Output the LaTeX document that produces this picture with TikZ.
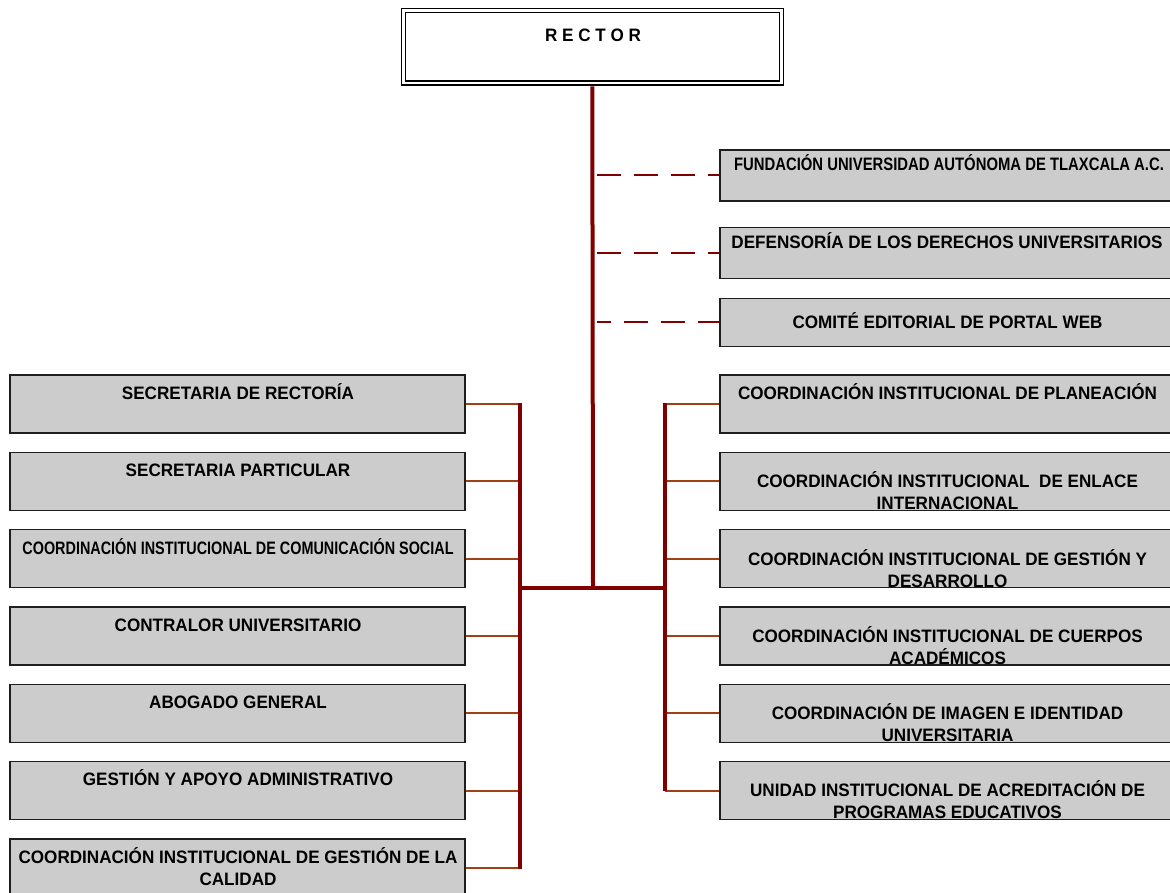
\documentclass[tikz,border=0pt]{standalone}
\usepackage{fontspec}
\setmainfont{Liberation Sans}
\usepackage{graphicx}
\definecolor{trunkc}{RGB}{128,0,0}
\definecolor{branchc}{RGB}{160,64,20}
\definecolor{boxgray}{RGB}{204,204,204}
\definecolor{edgec}{RGB}{30,30,30}
\newcommand\nx[1]{\scalebox{0.95}[1]{#1}}
\newcommand\cxa[1]{\scalebox{0.80}[1]{#1}}
\newcommand\cxb[1]{\scalebox{0.825}[1]{#1}}
\begin{document}
\begin{tikzpicture}[x=1pt,y=-1pt,
  unitbox/.style={rectangle, draw=edgec, line width=1.3pt, fill=boxgray,
    minimum width=455pt, minimum height=58pt, inner sep=0pt},
  lbl/.style={anchor=base, inner sep=0pt, font=\bfseries\fontsize{18}{21.6}\selectfont},
  trunkline/.style={trunkc, line width=4pt},
  branchline/.style={branchc, line width=1.8pt},
  dashline/.style={trunkc, line width=1.7pt, dash pattern=on 24pt off 13pt}
]
\useasboundingbox (0,0) rectangle (1170,892);
\clip (0,0) rectangle (1170,892);

% Rector
\node[rectangle, draw=black, double=white, double distance=2.6pt, line width=1.3pt,
  minimum width=378pt, minimum height=72.6pt, inner sep=0pt] (rector) at (592.3,46.7) {};
\node[lbl] (rectort) at (593,41) {\nx{R E C T O R}};

% Junction coordinates
\coordinate (J) at (593,588);
\coordinate (LJ) at (520,588);
\coordinate (RJ) at (665,588);
\coordinate (LT) at (520,403.3);
\coordinate (LB) at (520,869);
\coordinate (RT) at (665,403.3);
\coordinate (RB) at (665,791);

% Right top boxes (staff)
\node[unitbox, minimum height=51pt] (fa) at (947.5,175.5) {};
\node[unitbox, minimum height=51pt] (fb) at (947.5,252.8) {};
\node[unitbox, minimum height=48pt] (fc) at (947.5,322.2) {};
\node[lbl] (fat) at (949,170) {\cxb{FUNDACIÓN UNIVERSIDAD AUTÓNOMA DE TLAXCALA A.C.}};
\node[lbl] (fbt) at (947,248) {\nx{DEFENSORÍA DE LOS DERECHOS UNIVERSITARIOS}};
\node[lbl] (fct) at (947.5,328) {\nx{COMITÉ EDITORIAL DE PORTAL WEB}};

% Left boxes
\node[unitbox] (l1) at (237.5,404) {};
\node[unitbox] (l2) at (237.5,481.3) {};
\node[unitbox] (l3) at (237.5,558.7) {};
\node[unitbox] (l4) at (237.5,636) {};
\node[unitbox] (l5) at (237.5,713.3) {};
\node[unitbox] (l6) at (237.5,790.7) {};
\node[unitbox] (l7) at (237.5,868) {};
\node[lbl] (l1t) at (238,399) {\nx{SECRETARIA DE RECTORÍA}};
\node[lbl] (l2t) at (238,476) {\nx{SECRETARIA PARTICULAR}};
\node[lbl] (l3t) at (238,554) {\cxa{COORDINACIÓN INSTITUCIONAL DE COMUNICACIÓN SOCIAL}};
\node[lbl] (l4t) at (238,631) {\nx{CONTRALOR UNIVERSITARIO}};
\node[lbl] (l5t) at (238,708) {\nx{ABOGADO GENERAL}};
\node[lbl] (l6t) at (238,785) {\nx{GESTIÓN Y APOYO ADMINISTRATIVO}};
\node[lbl] (l7t) at (238,863) {\nx{COORDINACIÓN INSTITUCIONAL DE GESTIÓN DE LA}};
\node[lbl] (l7u) at (238,885) {\nx{CALIDAD}};

% Right boxes
\node[unitbox] (r1) at (947.5,404) {};
\node[unitbox] (r2) at (947.5,481.3) {};
\node[unitbox] (r3) at (947.5,558.7) {};
\node[unitbox] (r4) at (947.5,636) {};
\node[unitbox] (r5) at (947.5,713.3) {};
\node[unitbox] (r6) at (947.5,790.7) {};
\node[lbl] (r1t) at (947.5,399) {\nx{COORDINACIÓN INSTITUCIONAL DE PLANEACIÓN}};
\node[lbl] (r2t) at (947.5,487) {\nx{COORDINACIÓN INSTITUCIONAL\ \ DE ENLACE}};
\node[lbl] (r2u) at (947.5,509) {\nx{INTERNACIONAL}};
\node[lbl] (r3t) at (947.5,565) {\nx{COORDINACIÓN INSTITUCIONAL DE GESTIÓN Y}};
\node[lbl] (r3u) at (947.5,587) {\nx{DESARROLLO}};
\node[lbl] (r4t) at (947.5,642) {\nx{COORDINACIÓN INSTITUCIONAL DE CUERPOS}};
\node[lbl] (r4u) at (947.5,664) {\nx{ACADÉMICOS}};
\node[lbl] (r5t) at (947.5,719) {\nx{COORDINACIÓN DE IMAGEN E IDENTIDAD}};
\node[lbl] (r5u) at (947.5,741) {\nx{UNIVERSITARIA}};
\node[lbl] (r6t) at (947.5,796) {\nx{UNIDAD INSTITUCIONAL DE ACREDITACIÓN DE}};
\node[lbl] (r6u) at (947.5,818) {\nx{PROGRAMAS EDUCATIVOS}};

% Dashed staff connectors
\coordinate (da) at (597,175);
\coordinate (db) at (597,253);
\coordinate (dc) at (597,322);
\draw[dashline] (da) -- (da -| fa.west);
\draw[dashline] (db) -- (db -| fb.west);
\draw[dashline, dash phase=10pt] (dc) -- (dc -| fc.west);

% Branches
\foreach \b in {l1,l2,l3,l4,l5,l6,l7}
  \draw[branchline] (\b.east) -- (\b.east -| LT);
\foreach \b in {r1,r2,r3,r4,r5,r6}
  \draw[branchline] (\b.west -| RT) -- (\b.west);

% Trunk and buses
\draw[trunkline] ([yshift=-2.6pt]rector.south) -- (J);
\draw[trunkline] (LJ) -- (RJ);
\draw[trunkline] (LT) -- (LB);
\draw[trunkline] (RT) -- (RB);
\end{tikzpicture}
\end{document}
